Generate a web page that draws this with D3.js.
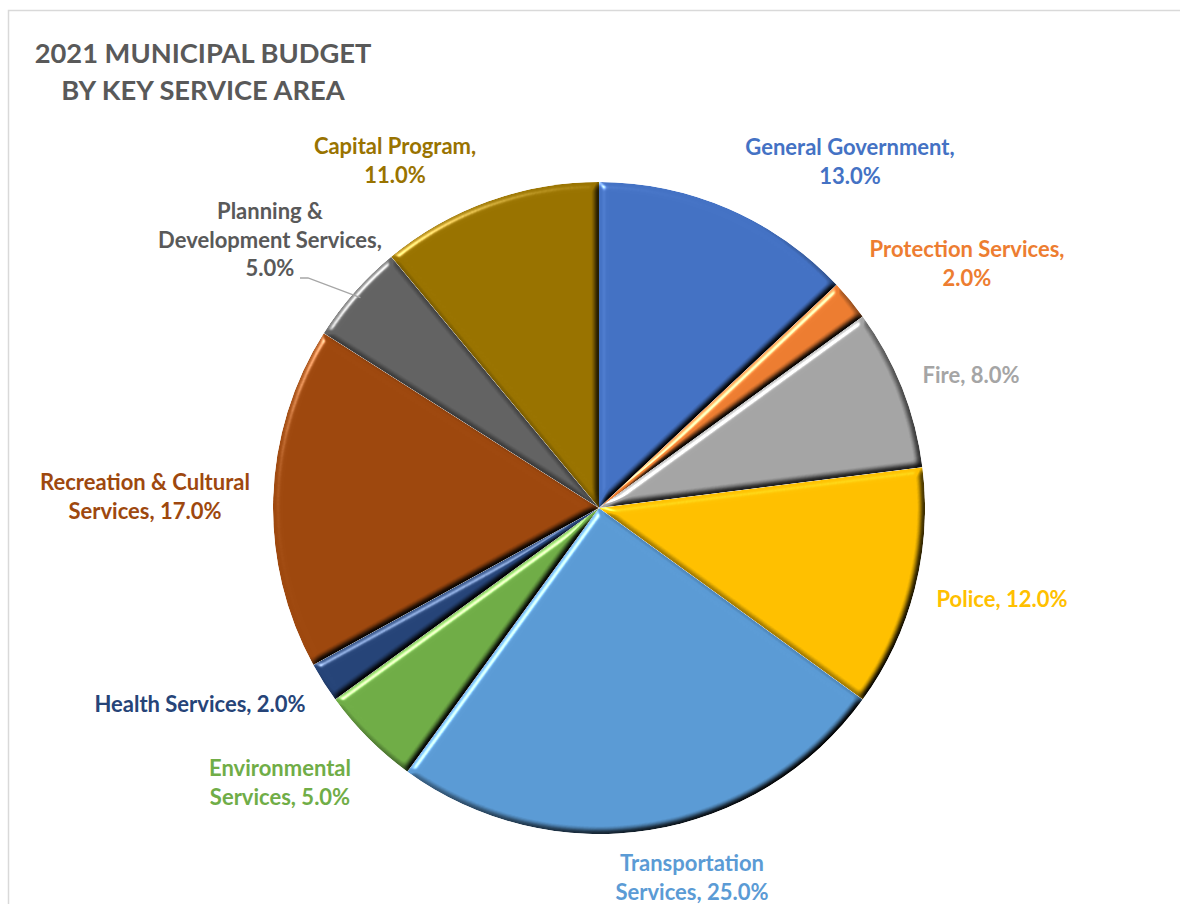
<!DOCTYPE html>
<html>
<head>
<meta charset="utf-8">
<script src="https://cdnjs.cloudflare.com/ajax/libs/d3/7.8.5/d3.min.js"></script>
<style>
  html, body { margin: 0; padding: 0; background: #fff; }
  svg { display: block; }
  text { font-family: Lato, "Open Sans", sans-serif; font-weight: bold; }
</style>
</head>
<body>
<div id="chart"></div>
<script>
// budget share per service area, clockwise from 12 o'clock
var categories = ["General Government", "Protection Services", "Fire", "Police",
  "Transportation Services", "Environmental Services", "Health Services",
  "Recreation & Cultural Services", "Planning & Development Services", "Capital Program"];
var values = [13, 2, 8, 12, 25, 5, 2, 17, 5, 11];
var sliceColors = ["#4472c4", "#ed7d31", "#a5a5a5", "#ffc000", "#5b9bd5",
  "#70ad47", "#264478", "#9e480e", "#636363", "#997300"];
var labelColors = ["#4472c4", "#ed7d31", "#a5a5a5", "#ffc000", "#5b9bd5",
  "#70ad47", "#264478", "#9e480e", "#595959", "#997300"];
// how excel wrapped each label, {v} is the percentage
var labelLines = [
  ["General Government,", "{v}"],
  ["Protection Services,", "{v}"],
  ["Fire, {v}"],
  ["Police, {v}"],
  ["Transportation", "Services, {v}"],
  ["Environmental", "Services, {v}"],
  ["Health Services, {v}"],
  ["Recreation & Cultural", "Services, {v}"],
  ["Planning &", "Development Services,", "{v}"],
  ["Capital Program,", "{v}"]
];
var titleLines = ["2021 MUNICIPAL BUDGET", "BY KEY SERVICE AREA"];

// layout: label anchor (centre x, first baseline y) relative to pie centre
var labelOffsets = [[251, -353], [368, -251], [372, -125], [403, 99], [93, 363],
  [-319, 268], [-399, 204], [-454, -18], [-329, -289], [-204, -354]];

var width = 1180, height = 904;
var cx = 599, cy = 508, radius = 326;
var lineH = 28.5;

var svg = d3.select("#chart").append("svg")
  .attr("width", width).attr("height", height);

// chart area border
svg.append("rect")
  .attr("x", 8.5).attr("y", 10.5)
  .attr("width", width + 20).attr("height", height + 20)
  .attr("fill", "#fff").attr("stroke", "#d9d9d9").attr("stroke-width", 1.5);

// soft bevel like excel's "circle" shape effect
var defs = svg.append("defs");
var bevel = defs.append("filter").attr("id", "bevel")
  .attr("color-interpolation-filters", "sRGB")
  .attr("x", "-5%").attr("y", "-5%").attr("width", "110%").attr("height", "110%");
bevel.append("feGaussianBlur").attr("in", "SourceAlpha").attr("stdDeviation", 3.5).attr("result", "blur");
bevel.append("feDiffuseLighting").attr("in", "blur").attr("surfaceScale", 4.5)
  .attr("diffuseConstant", 1.5).attr("lighting-color", "#fff").attr("result", "diff")
  .append("feDistantLight").attr("azimuth", 225).attr("elevation", 45);
bevel.append("feComposite").attr("in", "SourceGraphic").attr("in2", "diff")
  .attr("operator", "arithmetic").attr("k1", 1).attr("k2", 0).attr("k3", 0).attr("k4", 0)
  .attr("result", "shaded");
bevel.append("feSpecularLighting").attr("in", "blur").attr("surfaceScale", 4.5)
  .attr("specularConstant", 0.6).attr("specularExponent", 40).attr("lighting-color", "#fff")
  .attr("result", "spec")
  .append("feDistantLight").attr("azimuth", 225).attr("elevation", 30);
bevel.append("feComposite").attr("in", "spec").attr("in2", "SourceAlpha")
  .attr("operator", "in").attr("result", "specIn");
bevel.append("feComposite").attr("in", "shaded").attr("in2", "specIn")
  .attr("operator", "arithmetic").attr("k1", 0).attr("k2", 1).attr("k3", 1).attr("k4", 0)
  .attr("result", "lit");
bevel.append("feComposite").attr("in", "lit").attr("in2", "SourceAlpha").attr("operator", "in");

var pie = d3.pie().sort(null).value(function(d){ return d; });
var arcs = pie(values);
var arc = d3.arc().innerRadius(0).outerRadius(radius);

var g = svg.append("g").attr("transform", "translate(" + cx + "," + cy + ")");

g.selectAll("path.slice")
  .data(arcs)
  .enter()
  .append("path")
  .attr("class", "slice")
  .attr("d", arc)
  .attr("fill", function(d, i){ return sliceColors[i]; })
  .attr("filter", "url(#bevel)");

// leader line for the planning label
var planIdx = 8;
var planEdge = d3.arc().innerRadius(radius - 8).outerRadius(radius - 8).centroid(arcs[planIdx]);
var planLbl = labelOffsets[planIdx];
g.append("polyline")
  .attr("points", [[planLbl[0] + 30, planLbl[1] + 2 * lineH + 2],
    [planLbl[0] + 38, planLbl[1] + 2 * lineH + 2], planEdge].map(function(p){ return p.join(","); }).join(" "))
  .attr("fill", "none").attr("stroke", "#a6a6a6").attr("stroke-width", 1.3);

var fmt = d3.format(".1f");

var labels = g.selectAll("text.lbl")
  .data(arcs)
  .enter()
  .append("text")
  .attr("class", "lbl")
  .attr("text-anchor", "middle")
  .attr("font-size", "22px")
  .attr("fill", function(d, i){ return labelColors[i]; })
  .attr("transform", function(d, i){ return "translate(" + labelOffsets[i][0] + "," + labelOffsets[i][1] + ")"; });

labels.each(function(d, i){
  var t = d3.select(this);
  labelLines[i].forEach(function(line, j){
    t.append("tspan")
      .attr("x", 0)
      .attr("y", j * lineH)
      .text(line.replace("{v}", fmt(values[i]) + "%"));
  });
});

// title
svg.append("text")
  .attr("text-anchor", "middle")
  .attr("font-size", "27.3px")
  .attr("fill", "#595959")
  .selectAll("tspan")
  .data(titleLines)
  .enter()
  .append("tspan")
  .attr("x", 203)
  .attr("y", function(d, i){ return 63 + i * 37; })
  .text(function(d){ return d; });
</script>
</body>
</html>
